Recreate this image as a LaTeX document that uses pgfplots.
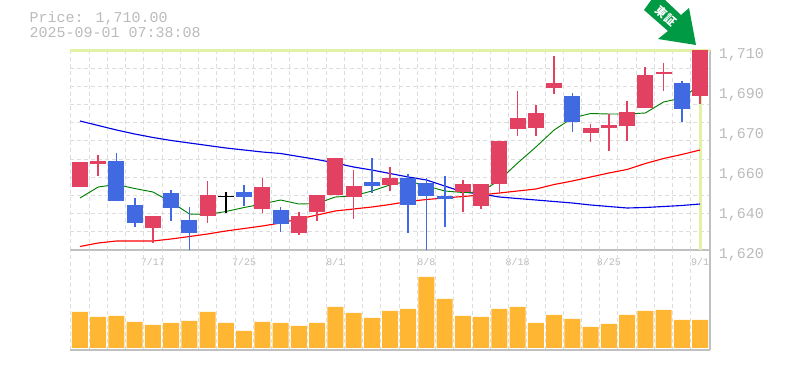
\documentclass[border=0pt]{standalone}
\usepackage{fontspec}
\setmainfont{Liberation Mono}
\newfontfamily\cjk{Noto Sans CJK JP}
\usepackage{pgfplots}
\usepackage{pgfplotstable}
\pgfplotsset{compat=1.18}
\definecolor{upc}{HTML}{E24162}
\definecolor{dnc}{HTML}{4169E1}
\definecolor{vol}{HTML}{FFB733}
\definecolor{gridc}{HTML}{DDDDDD}
\definecolor{axc}{HTML}{C0C0C0}
\definecolor{txt}{HTML}{BBBBBB}
\definecolor{cur}{HTML}{E2F2A4}
\definecolor{arr}{HTML}{009944}
\pgfplotstableread{
i lo hi bot top
0 1648.35 1659.6 1648.35 1659.6
1 1653.3 1662.75 1658.7 1660.05
4 1623.15 1635.3 1629.9 1635.3
7 1632.15 1651.05 1635.3 1644.75
10 1636.65 1652.4 1638.45 1648.35
12 1626.75 1637.1 1627.65 1635.3
13 1633.05 1644.75 1637.1 1644.75
14 1644.75 1661.4 1644.75 1661.4
15 1633.95 1656 1643.85 1648.8
17 1646.55 1657.35 1649.25 1652.4
21 1637.1 1651.5 1646.1 1649.7
22 1638.45 1649.7 1639.8 1649.7
23 1645.2 1669.05 1649.7 1669.05
24 1671.3 1691.55 1674.45 1679.4
25 1671.3 1685.25 1674.9 1681.65
26 1690.2 1707.3 1692.9 1695.15
28 1668.6 1676.7 1672.65 1674.9
29 1664.55 1681.2 1674.9 1676.25
30 1669.05 1687.05 1675.8 1682.1
31 1683.9 1702.35 1683.9 1698.75
32 1691.55 1704.15 1699.2 1700.1
34 1685.7 1710 1689.3 1710
}\uptable
\pgfplotstableread{
i lo hi bot top
2 1642.05 1663.65 1642.05 1660.05
3 1630.35 1643.4 1632.15 1640.25
5 1633.05 1647 1638.9 1645.65
6 1620 1639.35 1627.65 1633.5
9 1639.8 1649.25 1643.85 1646.1
11 1628.1 1639.35 1631.7 1638
16 1645.65 1661.4 1648.8 1650.6
18 1627.65 1654.2 1640.25 1652.4
19 1620 1652.4 1644.3 1650.15
20 1630.35 1653.3 1642.95 1644.3
27 1673.1 1690.65 1677.6 1689.3
33 1677.6 1696.05 1683.45 1695.15
}\dntable
\pgfplotstableread{
i lo hi bot top
8 1636.65 1646.1 1643.85 1644.3
}\flattable
\pgfplotstableread{
i long mid short
0 1678.05 1621.57 1643.4
1 1676.03 1623.15 1648.35
2 1674 1624.05 1649.47
3 1672.2 1624.05 1647.67
4 1670.63 1624.05 1646.1
5 1669.28 1624.95 1641.6
6 1668.15 1626.07 1636.2
7 1667.03 1627.2 1635.97
8 1665.9 1628.55 1637.32
9 1665 1629.67 1639.12
10 1664.1 1630.8 1640.7
11 1663.42 1632.15 1642.5
12 1662.07 1633.95 1640.7
13 1660.72 1635.75 1640.92
14 1659.15 1637.55 1643.85
15 1657.35 1638.45 1644.3
16 1656 1639.35 1646.55
17 1654.42 1640.47 1649.25
18 1652.85 1641.82 1651.05
19 1651.5 1642.72 1648.8
20 1648.8 1643.4 1646.55
21 1646.1 1644.07 1645.87
22 1645.2 1644.75 1646.1
23 1643.85 1645.65 1651.5
24 1643.17 1646.55 1659.15
25 1642.5 1647.45 1666.35
26 1641.82 1649.47 1674
27 1641.15 1651.05 1679.4
28 1640.25 1652.85 1681.42
29 1639.57 1654.65 1681.2
30 1638.9 1656.22 1681.2
31 1639.12 1658.92 1681.65
32 1639.57 1661.17 1686.6
33 1640.02 1662.97 1688.4
34 1640.7 1665 1694.25
}\matable
\newcommand{\candles}[2]{%
  \addplot[draw=none, no markers, forget plot,
    error bars/.cd, y dir=plus, y explicit, error mark=none,
    error bar style={draw=#2, line width=1.25pt}]
    table[x=i, y=lo, y error expr=\thisrow{hi}-\thisrow{lo}] {#1};
  \addplot[draw=none, no markers, forget plot,
    error bars/.cd, y dir=plus, y explicit, error mark=none,
    error bar style={draw=#2, line width=12pt}]
    table[x=i, y=bot, y error expr=\thisrow{top}-\thisrow{bot}] {#1};
}
\pgfplotsset{
  panel/.style={
    scale only axis, width=480pt, anchor=south west,
    xmin=-0.548, xmax=34.548,
    axis x line*=bottom, axis y line*=right,
    axis line style={draw=axc, line width=0.9pt},
    xtick={-0.5,0.5,...,33.5}, xticklabels={},
    major tick length=0pt,
    grid=major,
    grid style={draw=gridc, line width=0.75pt, dash pattern=on 3pt off 2.25pt},
    clip=true,
  }
}
\begin{document}
\begin{tikzpicture}
\path[use as bounding box] (0,0) rectangle (588.75pt,277.5pt);
\begin{axis}[panel, at={(52.5pt,90pt)}, height=150pt,
  ymin=1620, ymax=1710,
  ytick={1620,1628.18,1636.36,1644.55,1652.73,1660.91,1669.09,1677.27,1685.45,1693.64,1701.82,1710},
  yticklabels={},
  extra y ticks={1710,1692,1674,1656,1638,1620},
  extra y tick labels={{1,710},{1,690},{1,670},{1,660},{1,640},{1,620}},
  extra x ticks={4,9,14,19,24,29,34},
  extra x tick labels={7/17,7/25,8/1,8/8,8/18,8/25,9/1},
  extra tick style={grid=none, major tick length=0pt},
  yticklabel style={font=\fontsize{11.25}{13}\selectfont, text=txt, anchor=west, xshift=6.5pt, yshift=-3.75pt, inner sep=0pt},
  xticklabel style={font=\fontsize{7.5}{9}\selectfont, text=txt, anchor=center, yshift=-9pt, inner sep=0pt},
]
\addplot[cur, line width=2.25pt, forget plot] coordinates {(-0.548,1709.6) (34.548,1709.6)};
\addplot[cur, line width=2.25pt, forget plot] coordinates {(34.05,1620) (34.05,1710)};
\addplot[blue!90!black, line width=0.85pt, forget plot] table[x=i,y=long] {\matable};
\addplot[red, line width=0.85pt, forget plot] table[x=i,y=mid] {\matable};
\addplot[green!50!black, line width=0.7pt, forget plot] table[x=i,y=short] {\matable};
\candles{\uptable}{upc}
\candles{\dntable}{dnc}
\candles{\flattable}{black}
\end{axis}
\begin{axis}[panel, at={(52.5pt,15pt)}, height=75pt,
  ymin=-2, ymax=98, ytick=\empty, ymajorgrids=false,
]
\addplot[ybar, bar width=12pt, fill=vol, draw=none, forget plot] coordinates {
(0,36)(1,31)(2,32)(3,26)(4,23)(5,25)(6,27)(7,36)(8,25)(9,17)(10,26)(11,25)(12,22)(13,25)(14,41)(15,35)(16,30)(17,37)
(18,39)(19,71)(20,49)(21,32)(22,31)(23,39)(24,41)(25,25)(26,33)(27,29)(28,21)(29,24)(30,33)(31,37)(32,38)(33,28)(34,28)};
\end{axis}
\node[anchor=west, inner sep=0pt, text=txt, font=\fontsize{11.25}{13}\selectfont] at (22pt,264pt) {Price: 1,710.00};
\node[anchor=west, inner sep=0pt, text=txt, font=\fontsize{11.25}{13}\selectfont] at (22pt,252.75pt) {2025-09-01 07:38:08};
\begin{scope}[x=0.75pt,y=-0.75pt,yshift=277.5pt]
\fill[arr] (652,-1) -- (664,-1) -- (681,15) -- (689,8) -- (696,45) -- (658,39) -- (668,31) -- (644,10) -- cycle;
\node[text=white, rotate=-42, inner sep=0pt, font=\cjk\bfseries\fontsize{8.5}{10}\selectfont] at (666,16) {東証};
\end{scope}
\end{tikzpicture}
\end{document}
